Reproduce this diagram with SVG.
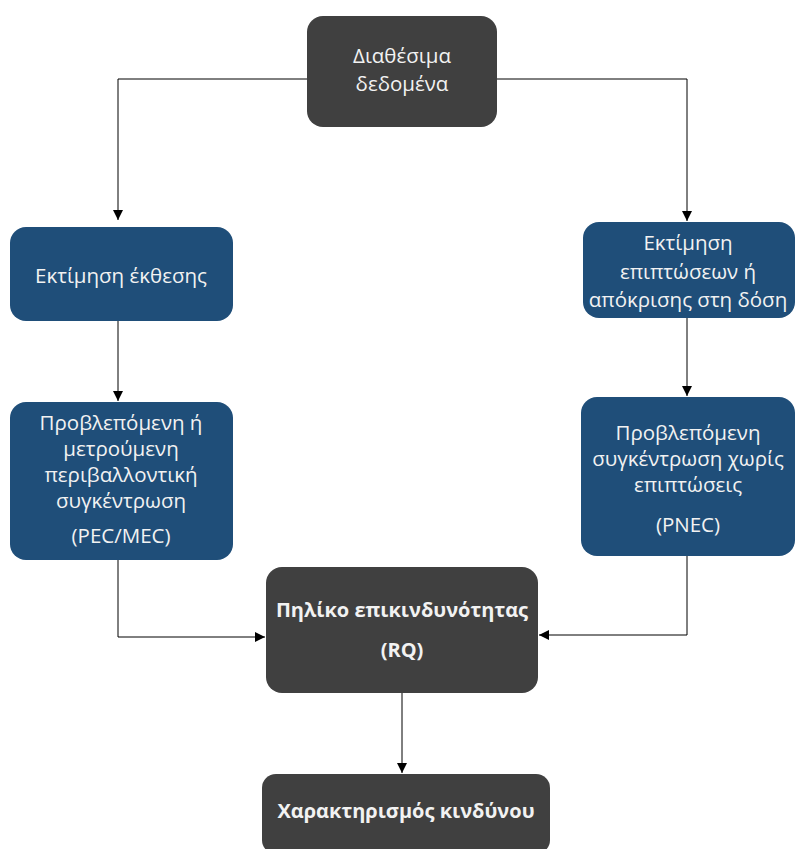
<svg xmlns="http://www.w3.org/2000/svg" width="795" height="849" viewBox="0 0 795 849">
  <defs>
    <marker id="arrow" viewBox="0 0 10 10" refX="10" refY="5" markerWidth="10" markerHeight="10" markerUnits="userSpaceOnUse" orient="auto">
      <path d="M0,0 L10,5 L0,10 Z" fill="#000"/>
    </marker>
    <style>
      .dark { fill: #404040; }
      .blue { fill: #1f4e79; }
      .lbl { font-family: "Open Sans", "Noto Sans", sans-serif; font-size: 20.5px; fill: #f2f2f2; text-anchor: middle; }
      .bold { font-weight: bold; font-size: 20px; }
      .edge { fill: none; stroke: #000; stroke-width: 1; marker-end: url(#arrow); }
    </style>
  </defs>
  <rect width="795" height="849" fill="#fff"/>

  <g id="connectors">
    <path class="edge" d="M307,79 H118 V220"/>
    <path class="edge" d="M497,79 H687 V221"/>
    <path class="edge" d="M118,321 V401"/>
    <path class="edge" d="M687,318 V396"/>
    <path class="edge" d="M118,560 V637 H265"/>
    <path class="edge" d="M687,556 V635 H539"/>
    <path class="edge" d="M402,693 V773"/>
  </g>

  <g id="data">
    <rect class="dark" x="307" y="16" width="190" height="111" rx="16"/>
    <text class="lbl" x="402" y="63">Διαθέσιμα</text>
    <text class="lbl" x="402" y="91">δεδομένα</text>
  </g>

  <g id="exposure">
    <rect class="blue" x="10" y="227" width="223" height="94" rx="16"/>
    <text class="lbl" x="121" y="283">Εκτίμηση έκθεσης</text>
  </g>

  <g id="effects">
    <rect class="blue" x="583" y="222" width="212" height="96" rx="16"/>
    <text class="lbl" x="688" y="250">Εκτίμηση</text>
    <text class="lbl" x="688" y="279">επιπτώσεων ή</text>
    <text class="lbl" x="688" y="307">απόκρισης στη δόση</text>
  </g>

  <g id="pec">
    <rect class="blue" x="10" y="402" width="223" height="158" rx="16"/>
    <text class="lbl" x="121" y="430">Προβλεπόμενη ή</text>
    <text class="lbl" x="121" y="456">μετρούμενη</text>
    <text class="lbl" x="121" y="482">περιβαλλοντική</text>
    <text class="lbl" x="121" y="508">συγκέντρωση</text>
    <text class="lbl" x="121" y="543">(PEC/MEC)</text>
  </g>

  <g id="pnec">
    <rect class="blue" x="581" y="397" width="214" height="159" rx="16"/>
    <text class="lbl" x="688" y="440">Προβλεπόμενη</text>
    <text class="lbl" x="688" y="466">συγκέντρωση χωρίς</text>
    <text class="lbl" x="688" y="492">επιπτώσεις</text>
    <text class="lbl" x="688" y="532">(PNEC)</text>
  </g>

  <g id="rq">
    <rect class="dark" x="266" y="567" width="272" height="126" rx="16"/>
    <text class="lbl bold" x="402" y="617">Πηλίκο επικινδυνότητας</text>
    <text class="lbl bold" x="402" y="657">(RQ)</text>
  </g>

  <g id="risk">
    <rect class="dark" x="262" y="774" width="288" height="80" rx="14"/>
    <text class="lbl bold" x="406" y="818">Χαρακτηρισμός κινδύνου</text>
  </g>
</svg>
